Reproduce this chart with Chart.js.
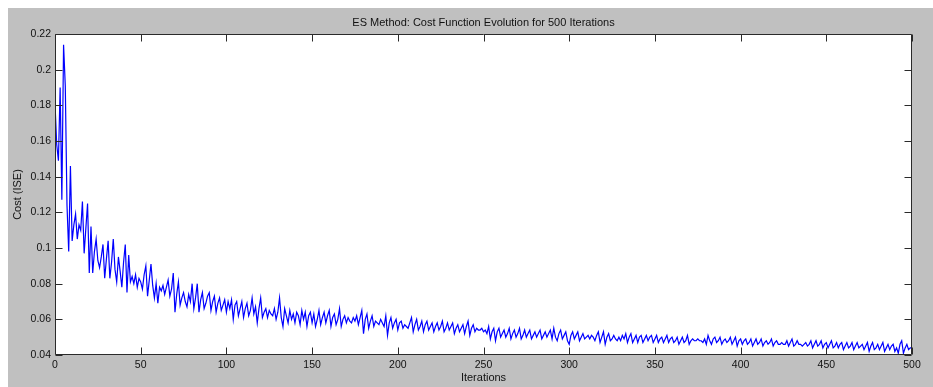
<!DOCTYPE html>
<html>
<head>
<meta charset="utf-8">
<title>ES Method: Cost Function Evolution</title>
<script src="https://cdn.jsdelivr.net/npm/chart.js@4/dist/chart.umd.min.js"></script>
<style>
  html, body { margin: 0; padding: 0; background: #ffffff; }
  #wrap { width: 933px; height: 387px; }
</style>
</head>
<body>
<div id="wrap"><canvas id="cost" width="933" height="387"></canvas></div>
<script>
// Cost (ISE) per iteration, iterations 0..500
const costIter0to99 = [
  0.181, 0.158, 0.149, 0.190, 0.127, 0.214, 0.191, 0.124, 0.098, 0.146,
  0.104, 0.113, 0.119, 0.105, 0.113, 0.110, 0.126, 0.097, 0.111, 0.125,
  0.086, 0.112, 0.086, 0.098, 0.105, 0.093, 0.089, 0.095, 0.102, 0.083,
  0.094, 0.104, 0.083, 0.092, 0.105, 0.088, 0.081, 0.095, 0.087, 0.078,
  0.092, 0.102, 0.075, 0.096, 0.081, 0.084, 0.080, 0.085, 0.078, 0.083,
  0.081, 0.077, 0.085, 0.090, 0.073, 0.082, 0.091, 0.079, 0.072, 0.080,
  0.069, 0.078, 0.076, 0.079, 0.074, 0.078, 0.082, 0.073, 0.077, 0.086,
  0.064, 0.074, 0.081, 0.068, 0.072, 0.075, 0.070, 0.067, 0.074, 0.070,
  0.080, 0.066, 0.072, 0.080, 0.064, 0.071, 0.075, 0.066, 0.069, 0.073,
  0.075, 0.065, 0.070, 0.073, 0.064, 0.069, 0.072, 0.065, 0.068, 0.071
];
const costIter100to199 = [
  0.064, 0.070, 0.066, 0.071, 0.060, 0.068, 0.070, 0.062, 0.066, 0.070,
  0.061, 0.066, 0.069, 0.062, 0.065, 0.072, 0.063, 0.067, 0.058, 0.066,
  0.072, 0.061, 0.064, 0.066, 0.061, 0.065, 0.063, 0.062, 0.066, 0.060,
  0.064, 0.072, 0.061, 0.056, 0.066, 0.062, 0.058, 0.065, 0.060, 0.063,
  0.058, 0.064, 0.062, 0.057, 0.065, 0.060, 0.064, 0.056, 0.062, 0.064,
  0.058, 0.063, 0.056, 0.060, 0.065, 0.057, 0.061, 0.064, 0.058, 0.062,
  0.065, 0.056, 0.061, 0.063, 0.057, 0.060, 0.066, 0.056, 0.060, 0.062,
  0.058, 0.061, 0.059, 0.058, 0.061, 0.059, 0.062, 0.057, 0.061, 0.065,
  0.052, 0.060, 0.063, 0.055, 0.059, 0.062, 0.056, 0.059, 0.058, 0.057,
  0.060, 0.058, 0.056, 0.062, 0.051, 0.058, 0.061, 0.055, 0.058, 0.060
];
const costIter200to299 = [
  0.054, 0.058, 0.059, 0.055, 0.057, 0.056, 0.055, 0.058, 0.061, 0.053,
  0.057, 0.060, 0.054, 0.056, 0.059, 0.053, 0.057, 0.059, 0.054, 0.056,
  0.058, 0.053, 0.056, 0.058, 0.054, 0.056, 0.059, 0.053, 0.055, 0.058,
  0.054, 0.056, 0.058, 0.052, 0.055, 0.057, 0.053, 0.055, 0.057, 0.052,
  0.056, 0.059, 0.051, 0.055, 0.057, 0.053, 0.055, 0.054, 0.054, 0.055,
  0.053, 0.054, 0.052, 0.056, 0.049, 0.053, 0.055, 0.048, 0.053, 0.055,
  0.050, 0.052, 0.054, 0.050, 0.052, 0.055, 0.049, 0.052, 0.054, 0.050,
  0.052, 0.055, 0.049, 0.051, 0.054, 0.050, 0.052, 0.054, 0.049, 0.051,
  0.053, 0.050, 0.052, 0.054, 0.049, 0.051, 0.053, 0.050, 0.052, 0.054,
  0.049, 0.055, 0.050, 0.048, 0.052, 0.054, 0.049, 0.051, 0.053, 0.048
];
const costIter300to399 = [
  0.046, 0.051, 0.053, 0.049, 0.051, 0.053, 0.048, 0.050, 0.052, 0.049,
  0.050, 0.051, 0.049, 0.051, 0.050, 0.048, 0.051, 0.053, 0.047, 0.050,
  0.053, 0.046, 0.050, 0.052, 0.048, 0.049, 0.051, 0.049, 0.048, 0.050,
  0.048, 0.051, 0.049, 0.052, 0.047, 0.050, 0.052, 0.047, 0.049, 0.051,
  0.047, 0.050, 0.051, 0.047, 0.049, 0.051, 0.048, 0.050, 0.051, 0.047,
  0.049, 0.051, 0.047, 0.049, 0.050, 0.047, 0.049, 0.051, 0.047, 0.049,
  0.050, 0.047, 0.048, 0.050, 0.046, 0.048, 0.050, 0.047, 0.048, 0.051,
  0.046, 0.048, 0.049, 0.048, 0.048, 0.049, 0.048, 0.048, 0.047, 0.049,
  0.046, 0.051, 0.048, 0.046, 0.049, 0.050, 0.047, 0.048, 0.050, 0.046,
  0.048, 0.049, 0.047, 0.048, 0.050, 0.046, 0.048, 0.050, 0.045, 0.048
];
const costIter400to500 = [
  0.049, 0.046, 0.048, 0.049, 0.046, 0.047, 0.049, 0.045, 0.047, 0.049,
  0.046, 0.047, 0.049, 0.045, 0.047, 0.048, 0.046, 0.047, 0.049, 0.045,
  0.047, 0.048, 0.046, 0.046, 0.047, 0.046, 0.046, 0.048, 0.045, 0.047,
  0.049, 0.045, 0.046, 0.048, 0.046, 0.046, 0.045, 0.046, 0.047, 0.045,
  0.046, 0.048, 0.044, 0.046, 0.048, 0.045, 0.046, 0.048, 0.044, 0.046,
  0.047, 0.044, 0.046, 0.048, 0.044, 0.045, 0.047, 0.044, 0.046, 0.047,
  0.043, 0.045, 0.047, 0.044, 0.045, 0.047, 0.043, 0.045, 0.047, 0.044,
  0.045, 0.046, 0.043, 0.045, 0.047, 0.042, 0.045, 0.047, 0.043, 0.044,
  0.046, 0.043, 0.045, 0.047, 0.042, 0.044, 0.046, 0.043, 0.045, 0.046,
  0.042, 0.044, 0.041, 0.046, 0.048, 0.041, 0.044, 0.046, 0.043, 0.044,
  0.044
];

const xTickValues = [0, 50, 100, 150, 200, 250, 300, 350, 400, 450, 500];
const yTickValues = [0.04, 0.06, 0.08, 0.1, 0.12, 0.14, 0.16, 0.18, 0.2, 0.22];

const chartTitle = 'ES Method: Cost Function Evolution for 500 Iterations';
const xAxisTitle = 'Iterations';
const yAxisTitle = 'Cost (ISE)';

const cost = [].concat(costIter0to99, costIter100to199, costIter200to299,
                       costIter300to399, costIter400to500);
const points = cost.map((c, i) => ({ x: i, y: c }));

const FONT = "'Liberation Sans', Arial, Helvetica, sans-serif";
const FIGURE_GRAY = '#c0c0c0';
const AXIS_COLOR = '#2a2a2a';
const TICK_LEN = 7;

// Figure background, axes box with inward ticks on all four sides, titles
const figurePlugin = {
  id: 'figure',
  beforeDraw(chart) {
    const { ctx, chartArea: a } = chart;
    ctx.save();
    ctx.fillStyle = '#ffffff';
    ctx.fillRect(0, 0, chart.width, chart.height);
    ctx.fillStyle = FIGURE_GRAY;
    ctx.fillRect(8, 8, chart.width - 8, chart.height - 8);
    ctx.fillStyle = '#ffffff';
    ctx.fillRect(a.left, a.top, a.right - a.left, a.bottom - a.top);
    ctx.restore();
  },
  afterDraw(chart) {
    const { ctx, chartArea: a, scales } = chart;
    const L = Math.round(a.left) + 0.5, R = Math.round(a.right) - 0.5;
    const T = Math.round(a.top) + 0.5, B = Math.round(a.bottom) - 0.5;
    ctx.save();
    ctx.strokeStyle = AXIS_COLOR;
    ctx.lineWidth = 1;
    ctx.beginPath();
    ctx.rect(L, T, R - L, B - T);
    xTickValues.forEach(v => {
      const px = Math.round(scales.x.getPixelForValue(v)) + 0.5;
      ctx.moveTo(px, B); ctx.lineTo(px, B - TICK_LEN);
      ctx.moveTo(px, T); ctx.lineTo(px, T + TICK_LEN);
    });
    yTickValues.forEach(v => {
      const py = Math.round(scales.y.getPixelForValue(v)) + 0.5;
      ctx.moveTo(L, py); ctx.lineTo(L + TICK_LEN, py);
      ctx.moveTo(R, py); ctx.lineTo(R - TICK_LEN, py);
    });
    ctx.stroke();

    ctx.fillStyle = '#111111';
    ctx.textAlign = 'center';
    ctx.textBaseline = 'alphabetic';
    ctx.font = '11px ' + FONT;
    const cx = (a.left + a.right) / 2;
    ctx.fillText(chartTitle, cx, 26);
    ctx.fillText(xAxisTitle, cx, 381);

    ctx.translate(18, (a.top + a.bottom) / 2);
    ctx.rotate(-Math.PI / 2);
    ctx.textBaseline = 'middle';
    ctx.fillText(yAxisTitle, 0, 0);
    ctx.restore();
  }
};

const tickLabel = v => String(parseFloat(Number(v).toFixed(2)));

new Chart(document.getElementById('cost'), {
  type: 'line',
  data: {
    datasets: [{
      data: points,
      borderColor: '#0000ff',
      borderWidth: 1.2,
      pointRadius: 0,
      tension: 0,
      fill: false
    }]
  },
  options: {
    responsive: false,
    animation: false,
    devicePixelRatio: 1,
    layout: { padding: { left: 8, top: 34, right: 21, bottom: 0 } },
    plugins: { legend: { display: false }, tooltip: { enabled: false }, title: { display: false } },
    scales: {
      x: {
        type: 'linear',
        min: 0,
        max: 500,
        grid: { display: false, drawTicks: false },
        border: { display: false },
        afterBuildTicks: s => { s.ticks = xTickValues.map(v => ({ value: v })); },
        afterFit: s => { s.height = 32; },
        ticks: {
          padding: 4,
          maxRotation: 0,
          autoSkip: false,
          color: '#111111',
          font: { family: FONT, size: 10.5 },
          callback: tickLabel
        }
      },
      y: {
        type: 'linear',
        min: 0.04,
        max: 0.22,
        grid: { display: false, drawTicks: false },
        border: { display: false },
        afterBuildTicks: s => { s.ticks = yTickValues.map(v => ({ value: v })); },
        afterFit: s => { s.width = 47; },
        ticks: {
          padding: 4,
          autoSkip: false,
          color: '#111111',
          font: { family: FONT, size: 10.5 },
          callback: tickLabel
        }
      }
    }
  },
  plugins: [figurePlugin]
});
</script>
</body>
</html>
